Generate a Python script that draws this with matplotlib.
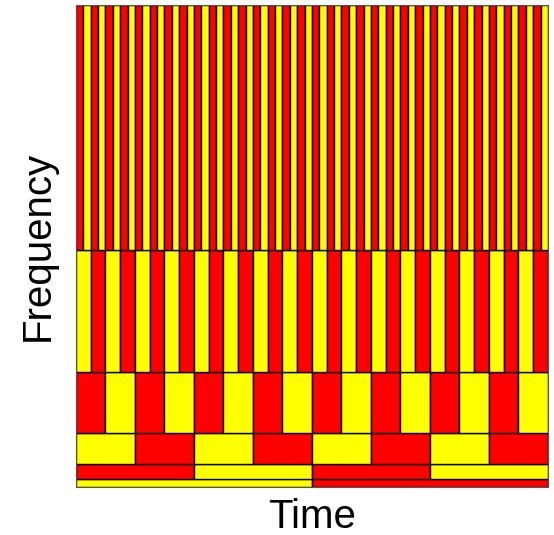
import numpy as np
import matplotlib
matplotlib.use('Agg')
from matplotlib import pyplot as plt

plt.rcParams['font.family'] = ['Liberation Sans', 'DejaVu Sans']

# time-frequency tiling, bottom row first
n_cells = [2, 4, 8, 16, 32, 64]
row_heights = [1, 2, 4, 8, 16, 32]
first_color = ['yellow', 'red', 'yellow', 'red', 'yellow', 'red']
other_color = {'yellow': 'red', 'red': 'yellow'}

fig = plt.figure(figsize=(5.54, 5.35), dpi=100)
ax = fig.add_axes([0.137, 0.0897, 0.852, 0.901])

bottom = 0
for n, h, c0 in zip(n_cells, row_heights, first_color):
    w = 1.0 / n
    lefts = np.arange(n) * w
    colors = [c0 if k % 2 == 0 else other_color[c0] for k in range(n)]
    ax.bar(lefts, h, width=w, bottom=bottom, align='edge',
           color=colors, edgecolor='black', linewidth=1)
    bottom += h

ax.set_xlim(0, 1)
ax.set_ylim(0, bottom)
ax.set_xticks([])
ax.set_yticks([])
for s in ax.spines.values():
    s.set_color('#555555')
ax.set_xlabel('Time', fontsize=29, labelpad=8)
ax.set_ylabel('Frequency', fontsize=29, labelpad=14)
fig.savefig('out.png')
